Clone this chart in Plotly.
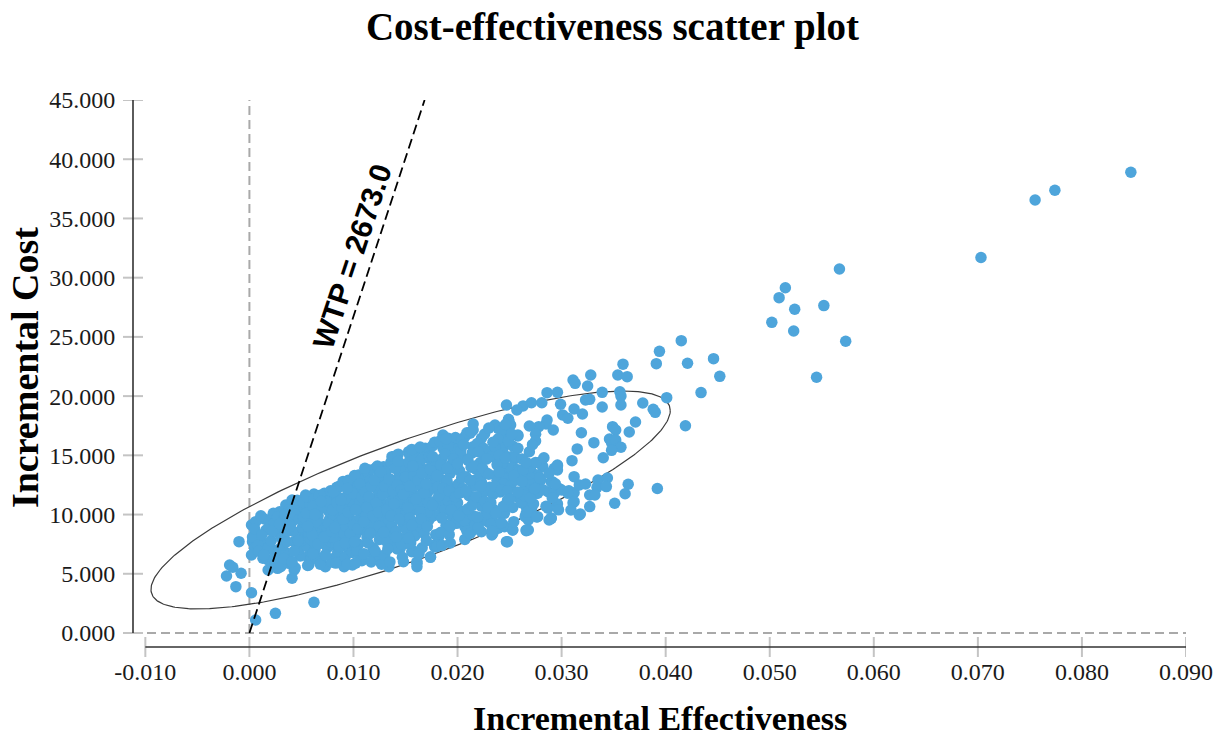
import numpy as np
import plotly.graph_objects as go

# Axis ticks
x_ticks = [-0.01, 0.0, 0.01, 0.02, 0.03, 0.04, 0.05, 0.06, 0.07, 0.08, 0.09]
y_ticks = [0, 5, 10, 15, 20, 25, 30, 35, 40, 45]

# Willingness-to-pay threshold
wtp = 2673.0

# 95% confidence ellipse summary (effect, cost)
ellipse_center = (0.01549, 11.23)
ellipse_half_width = 0.02495
ellipse_half_height = 9.2
ellipse_corr = 0.82

# Bootstrap replicates: (incremental effectiveness, incremental cost)
simulations = [
    # far upper-right replicates
    (0.0847, 38.9), (0.0774, 37.38), (0.0755, 36.56), (0.0703, 31.7), (0.0567, 30.73),
    (0.0515, 29.15), (0.0509, 28.31), (0.0524, 27.33), (0.0552, 27.64), (0.0502, 26.23),
    (0.0523, 25.5), (0.0573, 24.63), (0.0545, 21.59), (0.0415, 24.68), (0.0394, 23.78),
    (0.0391, 22.74), (0.0421, 22.77), (0.0446, 23.16), (0.0452, 21.67), (0.0434, 20.3),
    (0.0401, 19.87), (0.0392, 12.2), (0.0419, 17.5),
    # right half of the ellipse
    (0.0359, 22.7), (0.0311, 21.36), (0.0313, 21.08), (0.0328, 21.78), (0.0354, 21.78),
    (0.0363, 21.64), (0.0325, 20.85), (0.0286, 20.29), (0.0296, 20.32), (0.0339, 20.32),
    (0.0356, 20.37), (0.0357, 20.0), (0.0323, 19.67), (0.0327, 19.73), (0.0247, 19.25),
    (0.0263, 19.17), (0.0271, 19.44), (0.0281, 19.44), (0.0257, 18.83), (0.0299, 19.31),
    (0.0312, 18.91), (0.0320, 18.49), (0.0339, 19.08), (0.0357, 19.25), (0.0378, 19.42),
    (0.0388, 18.89), (0.0390, 18.63), (0.0301, 18.41), (0.0306, 18.13), (0.0249, 17.98),
    (0.0251, 17.56), (0.0286, 17.98), (0.0285, 17.65), (0.0278, 17.42), (0.0269, 17.48),
    (0.0292, 17.14), (0.0275, 16.78), (0.0275, 16.21), (0.0258, 16.63), (0.0244, 16.57),
    (0.0319, 16.91), (0.0349, 17.42), (0.0352, 17.14), (0.0346, 16.38), (0.0348, 16.07),
    (0.0352, 16.29), (0.0357, 15.68), (0.0371, 17.81), (0.0365, 16.97), (0.0331, 16.07),
    (0.0315, 15.54), (0.0340, 14.80), (0.0348, 15.42), (0.0244, 15.68), (0.0241, 14.89),
    (0.0253, 15.79), (0.0252, 14.89), (0.0256, 14.75), (0.0310, 14.55), (0.0280, 14.46),
    (0.0281, 14.16), (0.0296, 14.1), (0.0296, 13.76), (0.0270, 13.99), (0.0258, 13.76),
    (0.0251, 13.48), (0.0277, 13.2), (0.0279, 12.86), (0.0291, 12.78), (0.0298, 12.18),
    (0.0307, 12.0), (0.0312, 11.85), (0.0312, 13.2), (0.0317, 12.5), (0.0323, 12.58),
    (0.0335, 12.92), (0.0334, 12.3), (0.0344, 13.09), (0.0343, 12.36), (0.0327, 11.65),
    (0.0332, 11.65), (0.0364, 12.56), (0.0361, 11.76), (0.0351, 10.95), (0.0327, 10.67),
    (0.0318, 10.05), (0.0290, 9.68), (0.0266, 8.64), (0.0253, 8.70), (0.0245, 8.97),
    (0.0242, 10.1), (0.0311, 11.0), (0.0296, 10.9), (0.0287, 10.53), (0.0271, 10.53),
    (0.0266, 10.1), (0.0277, 9.82),
    # middle band
    (0.0215, 17.65), (0.0236, 17.56), (0.0239, 17.28), (0.0245, 17.37), (0.0249, 18.04),
    (0.0250, 17.71), (0.0186, 16.72), (0.0191, 16.44), (0.0198, 16.07), (0.0207, 16.57),
    (0.0212, 16.86), (0.0215, 17.14), (0.0223, 16.44), (0.0222, 15.45), (0.0226, 15.17),
    (0.0231, 15.31), (0.0242, 15.73), (0.0244, 15.17), (0.0242, 14.61), (0.0255, 14.75),
    (0.0253, 14.04), (0.0257, 13.48), (0.0249, 13.34), (0.0269, 14.04), (0.0271, 13.62),
    (0.0280, 14.33), (0.0282, 14.04), (0.0293, 13.9), (0.0296, 14.18), (0.0290, 12.78),
    (0.0277, 13.34), (0.0280, 12.92), (0.0266, 12.36), (0.0271, 12.07), (0.0276, 11.8),
    (0.0287, 11.93), (0.0293, 11.8), (0.0300, 12.07), (0.0306, 11.8), (0.0312, 11.09),
    (0.0309, 10.38), (0.0317, 9.96), (0.0288, 9.54), (0.0290, 9.68), (0.0268, 8.70),
    (0.0265, 9.82), (0.0247, 7.71), (0.0234, 8.42), (0.0239, 8.84), (0.0233, 9.54),
    (0.0253, 8.70), (0.0225, 9.54), (0.0217, 8.97), (0.0210, 9.54), (0.0178, 7.29),
    (0.0174, 6.39), (0.0161, 6.02), (0.0190, 8.70), (0.0199, 9.26), (0.0207, 8.97),
    (0.0243, 17.14), (0.0252, 16.72), (0.0258, 16.72), (0.0198, 15.87), (0.0201, 15.59),
    (0.0161, 5.88), (0.0161, 5.6), (0.0148, 6.02), (0.0134, 5.6), (0.0118, 6.73),
    (0.0107, 6.44), (0.0145, 7.15), (0.0151, 7.57), (0.0156, 6.86), (0.0178, 7.43),
    (0.0182, 8.13), (0.0158, 8.42), (0.0137, 14.89), (0.0153, 15.31), (0.0161, 15.45),
    (0.0169, 15.59), (0.0158, 14.61), (0.0172, 14.75), (0.0115, 13.76), (0.0121, 13.9),
    (0.0129, 14.04), (0.0215, 15.73), (0.0223, 15.31), (0.0228, 14.89), (0.0231, 15.17),
    (0.0244, 14.46), (0.0245, 14.04), (0.0252, 13.9), (0.0258, 13.76), (0.0265, 13.34),
    (0.0269, 13.9), (0.0271, 13.06), (0.0265, 12.22), (0.0266, 10.67), (0.0271, 10.1),
    (0.0268, 9.54), (0.0266, 8.70), (0.0248, 7.71), (0.0244, 9.12), (0.0233, 8.27),
    (0.0223, 8.55), (0.0215, 8.70), (0.0210, 9.68), (0.0201, 9.54), (0.0190, 8.70),
    (0.0180, 7.29), (0.0174, 6.44),
    # left edge, near zero effect
    (0.0002, 9.12), (0.0006, 9.4), (-0.0010, 7.71), (0.0003, 7.71), (0.0005, 7.15),
    (0.0002, 6.59), (-0.0019, 5.74), (-0.0016, 5.55), (-0.0022, 4.81), (-0.0008, 5.04),
    (-0.0013, 3.91), (0.0002, 3.40), (0.0006, 1.10), (0.0025, 1.66), (0.0062, 2.59),
    (0.0018, 5.32), (0.0027, 5.46), (0.0018, 6.16), (0.0013, 6.31), (0.0008, 7.01),
    (0.0022, 7.01), (0.0011, 7.71), (0.0016, 8.70), (0.0041, 4.62), (0.0043, 5.32),
    (0.0038, 5.88), (0.0057, 5.74), (0.0056, 6.44), (0.0067, 6.31), (0.0073, 5.60),
    (0.0080, 6.02), (0.0083, 6.44), (0.0091, 5.60), (0.0099, 5.74), (0.0108, 6.44),
    (0.0120, 6.59), (0.0027, 8.97), (0.0021, 9.54), (0.0029, 10.24), (0.0035, 10.81),
    (0.0041, 11.23), (0.0054, 11.65), (0.0062, 11.74), (0.0086, 12.36), (0.0102, 12.64),
    (0.0105, 13.34), (0.0113, 13.48),
    # dense core
    (0.0003, 8.1), (0.0008, 7.4), (0.0005, 8.8), (0.0009, 6.9),
    (0.0012, 8.3), (0.0015, 9.6), (0.0018, 7.2), (0.0014, 6.6), (0.0019, 8.9), (0.0011, 9.9),
    (0.0021, 7.8), (0.0024, 9.3), (0.0026, 6.4), (0.0028, 8.5), (0.0023, 10.1), (0.0029, 7.1),
    (0.0025, 5.9), (0.0027, 9.8),
    (0.0031, 8.0), (0.0033, 9.6), (0.0035, 6.8), (0.0038, 10.4), (0.0032, 7.4), (0.0036, 8.8),
    (0.0039, 6.1), (0.0034, 10.0), (0.0037, 9.1), (0.0030, 5.6),
    (0.0041, 9.4), (0.0043, 7.7), (0.0045, 10.7), (0.0047, 8.3), (0.0049, 6.5), (0.0042, 8.6),
    (0.0044, 5.5), (0.0046, 9.9), (0.0048, 7.1), (0.0040, 10.3), (0.0046, 11.2), (0.0043, 6.9),
    (0.0051, 8.9), (0.0053, 10.5), (0.0055, 7.3), (0.0057, 9.7), (0.0059, 6.2), (0.0052, 11.0),
    (0.0054, 8.1), (0.0056, 5.7), (0.0058, 10.9), (0.0050, 7.8), (0.0053, 9.3), (0.0057, 8.4),
    (0.0055, 11.5), (0.0059, 7.9),
    (0.0061, 9.5), (0.0063, 7.0), (0.0065, 10.8), (0.0067, 8.6), (0.0069, 6.3), (0.0062, 11.3),
    (0.0064, 8.0), (0.0066, 9.9), (0.0068, 5.8), (0.0060, 10.2), (0.0063, 7.6), (0.0067, 11.6),
    (0.0065, 9.1), (0.0069, 8.3), (0.0061, 6.7), (0.0068, 10.5),
    (0.0071, 8.8), (0.0073, 10.9), (0.0075, 7.2), (0.0077, 9.6), (0.0079, 6.0), (0.0072, 11.8),
    (0.0074, 8.4), (0.0076, 10.3), (0.0078, 7.7), (0.0070, 9.2), (0.0073, 6.6), (0.0077, 11.2),
    (0.0075, 8.9), (0.0079, 10.1), (0.0071, 7.9), (0.0078, 12.0),
    (0.0081, 9.8), (0.0083, 7.4), (0.0085, 11.5), (0.0087, 8.7), (0.0089, 6.2), (0.0082, 10.6),
    (0.0084, 12.3), (0.0086, 9.3), (0.0088, 7.8), (0.0080, 8.1), (0.0083, 5.9), (0.0087, 10.9),
    (0.0085, 6.9), (0.0089, 9.6), (0.0081, 11.9), (0.0088, 12.4), (0.0084, 8.5), (0.0086, 10.2),
    (0.0091, 8.4), (0.0093, 10.7), (0.0095, 7.1), (0.0097, 12.1), (0.0099, 9.4), (0.0092, 6.4),
    (0.0094, 11.6), (0.0096, 8.9), (0.0098, 10.3), (0.0090, 12.8), (0.0093, 9.0), (0.0097, 7.6),
    (0.0095, 12.9), (0.0099, 6.8), (0.0091, 10.0), (0.0098, 11.2), (0.0094, 5.8), (0.0096, 9.7),
    (0.0101, 9.2), (0.0103, 11.4), (0.0105, 7.5), (0.0107, 10.1), (0.0109, 13.0), (0.0102, 8.3),
    (0.0104, 12.4), (0.0106, 6.5), (0.0108, 9.8), (0.0100, 10.8), (0.0103, 7.0), (0.0107, 12.0),
    (0.0105, 10.6), (0.0109, 8.7), (0.0101, 13.3), (0.0108, 6.1), (0.0104, 9.5), (0.0106, 11.1),
    (0.0102, 5.9),
    (0.0111, 10.4), (0.0113, 8.1), (0.0115, 12.6), (0.0117, 9.6), (0.0119, 7.2), (0.0112, 11.7),
    (0.0114, 13.5), (0.0116, 10.9), (0.0118, 8.8), (0.0110, 6.7), (0.0113, 12.2), (0.0117, 6.0),
    (0.0115, 9.1), (0.0119, 11.3), (0.0111, 13.9), (0.0118, 10.0), (0.0114, 7.6), (0.0116, 12.9),
    (0.0112, 9.9),
    (0.0121, 9.7), (0.0123, 12.1), (0.0125, 7.9), (0.0127, 10.6), (0.0129, 13.7), (0.0122, 8.6),
    (0.0124, 11.2), (0.0126, 6.3), (0.0128, 12.8), (0.0120, 10.3), (0.0123, 14.1), (0.0127, 8.2),
    (0.0125, 11.8), (0.0129, 9.3), (0.0121, 6.9), (0.0128, 10.9), (0.0124, 13.2), (0.0126, 9.9),
    (0.0122, 12.5), (0.0127, 5.8),
    (0.0131, 10.8), (0.0133, 8.5), (0.0135, 13.0), (0.0137, 11.5), (0.0139, 7.3), (0.0132, 12.3),
    (0.0134, 9.5), (0.0136, 14.4), (0.0138, 10.2), (0.0130, 6.6), (0.0133, 11.9), (0.0137, 9.0),
    (0.0135, 6.0), (0.0139, 12.7), (0.0131, 13.6), (0.0138, 8.1), (0.0134, 10.6), (0.0136, 11.1),
    (0.0132, 7.7), (0.0139, 14.9),
    (0.0141, 9.9), (0.0143, 12.4), (0.0145, 8.0), (0.0147, 11.0), (0.0149, 14.2), (0.0142, 7.1),
    (0.0144, 13.3), (0.0146, 10.5), (0.0148, 9.2), (0.0140, 11.6), (0.0143, 15.1), (0.0147, 6.4),
    (0.0145, 12.9), (0.0149, 10.8), (0.0141, 8.6), (0.0148, 13.9), (0.0144, 11.3), (0.0146, 7.5),
    (0.0142, 10.1),
    (0.0151, 11.4), (0.0153, 9.0), (0.0155, 13.6), (0.0157, 10.4), (0.0159, 8.2), (0.0152, 12.8),
    (0.0154, 15.0), (0.0156, 11.9), (0.0158, 6.9), (0.0150, 10.0), (0.0153, 14.4), (0.0157, 12.3),
    (0.0155, 7.6), (0.0159, 14.8), (0.0151, 8.7), (0.0158, 11.0), (0.0154, 9.7), (0.0156, 15.5),
    (0.0161, 10.7), (0.0163, 13.1), (0.0165, 8.9), (0.0167, 12.0), (0.0169, 15.2), (0.0162, 9.4),
    (0.0164, 11.6), (0.0166, 7.2), (0.0168, 13.8), (0.0160, 12.5), (0.0163, 6.7), (0.0167, 10.1),
    (0.0165, 14.6), (0.0169, 11.3), (0.0161, 14.0), (0.0168, 8.4), (0.0164, 15.7), (0.0166, 10.9),
    (0.0171, 11.8), (0.0173, 9.6), (0.0175, 14.1), (0.0177, 12.6), (0.0179, 8.3), (0.0172, 13.4),
    (0.0174, 10.5), (0.0176, 15.8), (0.0178, 11.1), (0.0170, 7.8), (0.0173, 14.9), (0.0177, 9.9),
    (0.0175, 12.2), (0.0179, 13.0), (0.0171, 10.2), (0.0178, 16.1),
    (0.0181, 12.3), (0.0183, 10.0), (0.0185, 14.7), (0.0187, 11.5), (0.0189, 9.1), (0.0182, 13.6),
    (0.0184, 8.5), (0.0186, 15.6), (0.0188, 12.9), (0.0180, 10.8), (0.0183, 16.2), (0.0187, 13.9),
    (0.0185, 7.4), (0.0189, 11.0), (0.0181, 14.5), (0.0188, 10.4),
    (0.0191, 11.2), (0.0193, 13.5), (0.0195, 9.8), (0.0197, 15.1), (0.0199, 12.4), (0.0192, 8.3),
    (0.0194, 14.2), (0.0196, 10.9), (0.0198, 16.5), (0.0190, 12.8), (0.0193, 7.6), (0.0197, 11.7),
    (0.0195, 13.9), (0.0199, 9.4), (0.0191, 15.8),
    (0.0201, 12.6), (0.0203, 10.3), (0.0205, 14.8), (0.0207, 11.9), (0.0209, 8.6), (0.0202, 13.7),
    (0.0204, 16.3), (0.0206, 9.5), (0.0208, 13.2), (0.0200, 11.0), (0.0203, 15.4), (0.0207, 7.9),
    (0.0205, 12.2), (0.0209, 16.9),
    (0.0211, 11.6), (0.0213, 14.0), (0.0215, 9.9), (0.0217, 12.9), (0.0219, 16.0), (0.0212, 8.4),
    (0.0214, 15.2), (0.0216, 11.2), (0.0218, 13.8), (0.0210, 10.5), (0.0213, 17.0), (0.0217, 9.1),
    (0.0215, 12.4),
    (0.0221, 13.1), (0.0223, 10.7), (0.0225, 15.6), (0.0227, 12.0), (0.0229, 9.4), (0.0222, 14.4),
    (0.0224, 11.8), (0.0226, 16.8), (0.0228, 13.5), (0.0220, 8.9), (0.0223, 12.7), (0.0227, 10.0),
    (0.0231, 12.3), (0.0233, 14.9), (0.0235, 10.4), (0.0237, 13.3), (0.0239, 16.4), (0.0232, 9.2),
    (0.0234, 11.7), (0.0236, 15.7), (0.0238, 12.9), (0.0230, 17.3), (0.0233, 8.6),
    (0.0241, 11.9), (0.0243, 14.3), (0.0245, 10.1), (0.0247, 13.0), (0.0249, 16.2), (0.0242, 9.3),
    (0.0244, 12.6), (0.0246, 17.6), (0.0248, 11.2), (0.0240, 15.0),
    (0.0251, 12.4), (0.0253, 10.6), (0.0255, 14.9), (0.0257, 11.5), (0.0259, 13.6), (0.0252, 16.8),
    (0.0254, 9.4), (0.0256, 12.9), (0.0258, 15.6),
    (0.0261, 11.0), (0.0263, 13.8), (0.0265, 12.2), (0.0267, 10.2), (0.0269, 15.3), (0.0262, 14.7),
    (0.0264, 11.6), (0.0268, 12.8),
    (0.0271, 12.5), (0.0273, 10.9), (0.0275, 14.4), (0.0277, 11.8), (0.0279, 13.1), (0.0272, 15.9),
    (0.0276, 9.8),
    (0.0282, 12.1), (0.0285, 10.7), (0.0288, 13.5), (0.0291, 11.4), (0.0294, 12.6), (0.0297, 10.4),
    (0.0283, 14.8),
    # further core replicates
    (0.0022, 8.6), (0.0034, 8.4), (0.0039, 9.0), (0.0044, 10.0), (0.0048, 9.6), (0.0036, 7.7),
    (0.0029, 9.2), (0.0047, 7.8), (0.0033, 6.3), (0.0041, 6.0),
    (0.0052, 9.8), (0.0055, 10.1), (0.0058, 8.8), (0.0061, 10.7), (0.0064, 9.4), (0.0066, 7.5),
    (0.0070, 10.6), (0.0072, 8.1), (0.0074, 11.1), (0.0076, 9.2), (0.0079, 8.6), (0.0060, 8.3),
    (0.0056, 9.0), (0.0069, 11.1), (0.0063, 10.0),
    (0.0080, 10.4), (0.0082, 8.9), (0.0084, 11.0), (0.0086, 7.3), (0.0089, 10.6), (0.0090, 9.6),
    (0.0092, 11.3), (0.0095, 10.2), (0.0097, 8.4), (0.0099, 11.8), (0.0100, 9.1), (0.0102, 10.4),
    (0.0104, 8.8), (0.0106, 12.6), (0.0108, 11.5), (0.0110, 9.4), (0.0092, 7.6), (0.0101, 7.7),
    (0.0088, 11.2), (0.0094, 12.2),
    (0.0111, 11.9), (0.0113, 10.6), (0.0115, 11.5), (0.0117, 12.4), (0.0119, 9.9), (0.0120, 12.9),
    (0.0122, 11.0), (0.0124, 10.2), (0.0126, 13.6), (0.0128, 11.7), (0.0130, 12.4), (0.0132, 10.4),
    (0.0134, 13.0), (0.0136, 9.9), (0.0138, 12.0), (0.0139, 10.9), (0.0116, 8.4), (0.0125, 9.0),
    (0.0133, 7.1), (0.0129, 8.5),
    (0.0140, 13.9), (0.0142, 12.5), (0.0144, 9.6), (0.0146, 12.1), (0.0148, 11.7), (0.0150, 13.2),
    (0.0152, 10.6), (0.0154, 12.4), (0.0156, 9.1), (0.0158, 13.3), (0.0160, 11.3), (0.0162, 12.9),
    (0.0164, 10.2), (0.0166, 13.5), (0.0168, 11.8), (0.0141, 8.1), (0.0153, 8.0), (0.0165, 9.6),
    (0.0143, 14.5), (0.0157, 14.1),
    (0.0170, 12.6), (0.0172, 11.0), (0.0174, 13.8), (0.0176, 10.8), (0.0178, 14.6), (0.0180, 13.3),
    (0.0182, 11.6), (0.0184, 14.2), (0.0186, 12.2), (0.0188, 15.1), (0.0190, 13.9), (0.0192, 12.0),
    (0.0194, 10.4), (0.0196, 14.7), (0.0198, 11.5), (0.0171, 9.0), (0.0185, 9.7), (0.0193, 9.0),
    (0.0176, 14.9), (0.0189, 16.4),
    (0.0200, 14.3), (0.0202, 11.8), (0.0204, 13.1), (0.0206, 15.9), (0.0208, 12.0), (0.0210, 14.6),
    (0.0212, 12.9), (0.0214, 10.8), (0.0216, 14.1), (0.0218, 11.5), (0.0220, 15.3), (0.0222, 12.4),
    (0.0224, 13.9), (0.0226, 11.1), (0.0228, 14.7), (0.0230, 13.4), (0.0232, 11.0), (0.0234, 16.1),
    (0.0236, 12.4), (0.0238, 14.2), (0.0201, 9.9), (0.0219, 9.8), (0.0229, 10.6), (0.0237, 10.1),
    (0.0240, 13.6), (0.0242, 12.1), (0.0244, 10.7), (0.0246, 14.8), (0.0248, 12.0), (0.0250, 11.3),
    (0.0254, 13.3), (0.0258, 11.9), (0.0262, 12.8), (0.0266, 14.4), (0.0270, 11.4), (0.0274, 12.2),
]
effect = [p[0] for p in simulations]
cost = [p[1] for p in simulations]

SERIF = "Liberation Serif"
SANS = "Liberation Sans"
DOT_BLUE = "#4EA5DB"
TICK_GREY = "#c4c4c4"
REF_GREY = "#a9a9a9"
AXIS_DARK = "#333333"

x_left = -0.011186
x_right = x_ticks[-1]
y_bottom = -1.182
y_top = y_ticks[-1]

fig = go.Figure()

# Confidence ellipse outline
t = np.linspace(0, 2 * np.pi, 400)
cx, cy = ellipse_center
ex = cx + ellipse_half_width * np.cos(t)
ey = cy + ellipse_half_height * (ellipse_corr * np.cos(t) + np.sqrt(1 - ellipse_corr ** 2) * np.sin(t))
fig.add_trace(go.Scatter(x=ex, y=ey, mode="lines", line=dict(color="#3a3a3a", width=1.2),
                         hoverinfo="skip"))

# Replicates
fig.add_trace(go.Scatter(x=effect, y=cost, mode="markers",
                         marker=dict(color=DOT_BLUE, size=11.5, line=dict(width=0)),
                         hoverinfo="x+y"))

# WTP threshold line through the origin
fig.add_trace(go.Scatter(x=[0, y_top / wtp], y=[0, y_top], mode="lines",
                         line=dict(color="black", width=1.8, dash="10px,5px"),
                         hoverinfo="skip"))

shapes = []
# dashed reference lines at zero effect and zero cost
shapes.append(dict(type="line", xref="x", yref="y", x0=0, x1=0, y0=y_ticks[0], y1=y_top,
                   line=dict(color=REF_GREY, width=2, dash="9px,5px"), layer="below"))
shapes.append(dict(type="line", xref="paper", yref="y", x0=0, x1=1, y0=0, y1=0,
                   line=dict(color=REF_GREY, width=2, dash="9px,5px"), layer="below"))
# detached axis lines
shapes.append(dict(type="line", xref="paper", yref="y", x0=0, x1=0, y0=y_ticks[0], y1=y_ticks[-1],
                   line=dict(color=AXIS_DARK, width=1.6), layer="above"))
shapes.append(dict(type="line", xref="x", yref="paper", x0=x_ticks[0], x1=x_ticks[-1], y0=0, y1=0,
                   line=dict(color=AXIS_DARK, width=1.6), layer="above"))
# tick marks crossing each axis line
for v in y_ticks:
    shapes.append(dict(type="line", xref="paper", yref="y", xsizemode="pixel", xanchor=0,
                       x0=-10, x1=10, y0=v, y1=v, line=dict(color=TICK_GREY, width=2), layer="below"))
for v in x_ticks:
    shapes.append(dict(type="line", xref="x", yref="paper", ysizemode="pixel", yanchor=0,
                       x0=v, x1=v, y0=-10, y1=10, line=dict(color=TICK_GREY, width=2), layer="below"))

annotations = [
    dict(text=f"<b>WTP = {wtp:.1f}</b>", x=0.00985, y=31.8, xref="x", yref="y",
         textangle=-71.7, showarrow=False, xanchor="center", yanchor="middle",
         font=dict(family=SANS, size=30, color="black")),
    dict(text="<b>Incremental Effectiveness</b>", x=0.5, y=-0.1298, xref="paper", yref="paper",
         showarrow=False, xanchor="center", yanchor="middle",
         font=dict(family=SERIF, size=34, color="black")),
    dict(text="<b>Incremental Cost</b>", x=-0.1025, y=0.51, xref="paper", yref="paper",
         textangle=-90, showarrow=False, xanchor="center", yanchor="middle",
         font=dict(family=SERIF, size=38, color="black")),
]

fig.update_layout(
    width=1225, height=740,
    margin=dict(l=133, r=34, t=100, b=93),
    paper_bgcolor="white", plot_bgcolor="white",
    showlegend=False,
    title=dict(text="<b>Cost-effectiveness scatter plot</b>", x=0.5, xanchor="center",
               y=1 - 26 / 740, yanchor="middle", yref="container",
               font=dict(family=SERIF, size=39, color="black")),
    xaxis=dict(range=[x_left, x_right], tickvals=x_ticks,
               ticktext=[f"{v:.3f}" for v in x_ticks],
               ticks="outside", ticklen=3, tickcolor="rgba(0,0,0,0)",
               showgrid=False, zeroline=False, showline=False,
               tickfont=dict(family=SERIF, size=24, color="#1a1a1a")),
    yaxis=dict(range=[y_bottom, y_top], tickvals=y_ticks,
               ticktext=[f"{v:.3f}" for v in y_ticks],
               ticks="outside", ticklen=12, tickcolor="rgba(0,0,0,0)",
               showgrid=False, zeroline=False, showline=False,
               tickfont=dict(family=SERIF, size=24, color="#1a1a1a")),
    shapes=shapes,
    annotations=annotations,
)

fig.write_html("out.html")
